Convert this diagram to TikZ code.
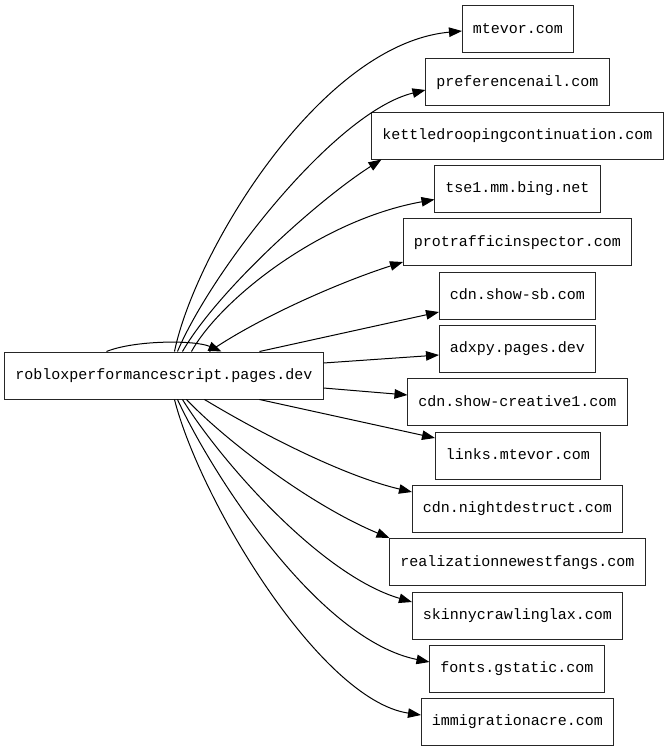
\documentclass[tikz,border=0pt]{standalone}
\usepackage{fontspec}
\setmonofont{Liberation Mono}
\usetikzlibrary{arrows.meta}
\begin{document}
\begin{tikzpicture}[x=1pt,y=-1pt,
  box/.style={draw=black!85, line width=1pt, inner ysep=0pt, inner xsep=10.5pt,
    minimum height=47pt, font=\ttfamily\fontsize{15}{18}\selectfont,
    text height=11pt, text depth=2.5pt},
  e/.style={line width=1pt, -{Triangle[length=13pt,width=9.5pt]}}]
\useasboundingbox[fill=white] (0,0) rectangle (669,752);
\node[box] (src) at (164,375.5) {robloxperformancescript.pages.dev};
\node[box] (n1) at (518,29) {mtevor.com};
\node[box] (n2) at (517.5,82) {preferencenail.com};
\node[box] (n3) at (517.5,135.5) {kettledroopingcontinuation.com};
\node[box] (n4) at (517.5,188.5) {tse1.mm.bing.net};
\node[box] (n5) at (517.5,242) {protrafficinspector.com};
\node[box] (n6) at (517.5,295.5) {cdn.show-sb.com};
\node[box] (n7) at (517.5,348.5) {adxpy.pages.dev};
\node[box] (n8) at (517.5,402) {cdn.show-creative1.com};
\node[box] (n9) at (518,455.5) {links.mtevor.com};
\node[box] (n10) at (517.5,508.5) {cdn.nightdestruct.com};
\node[box] (n11) at (517.5,562) {realizationnewestfangs.com};
\node[box] (n12) at (517.5,615.5) {skinnycrawlinglax.com};
\node[box] (n13) at (517,668.5) {fonts.gstatic.com};
\node[box] (n14) at (517.5,721.5) {immigrationacre.com};
% self loop
\draw[e] ([xshift=102pt]src.north west) .. controls (135,340) and (195,340) .. ([xshift=217pt]src.north west);
% upper fan
\draw[e] ([xshift=170pt]src.north west) .. controls (195,252) and (320,44) .. ([yshift=-2pt]n1.west);
\draw[e] ([xshift=173pt]src.north west) .. controls (212,270) and (335,112) .. ([yshift=-8pt]n2.west);
\draw[e] ([xshift=178pt]src.north west) .. controls (218,290) and (318,200) .. ([xshift=10pt]n3.south west);
\draw[e] ([xshift=187pt]src.north west) .. controls (220,300) and (320,220) .. ([yshift=-11pt]n4.west);
\draw[e] ([xshift=205pt]src.north west) .. controls (258,318) and (340,282) .. ([yshift=-20pt]n5.west);
\draw[e] ([xshift=255pt]src.north west) -- ([yshift=-16.5pt]n6.west);
\draw[e] ([yshift=12.5pt]src.east) -- ([yshift=-6.5pt]n7.west);
\draw[e] ([yshift=-12.5pt]src.east) -- ([yshift=7pt]n8.west);
% lower fan
\draw[e] ([xshift=255pt]src.south west) -- ([yshift=17.5pt]n9.west);
\draw[e] ([xshift=200pt]src.south west) .. controls (255,430) and (340,475) .. ([yshift=16.5pt]n10.west);
\draw[e] ([xshift=182pt]src.south west) .. controls (225,440) and (310,505) .. (n11.north west);
\draw[e] ([xshift=178pt]src.south west) .. controls (220,460) and (320,575) .. ([yshift=13.5pt]n12.west);
\draw[e] ([xshift=173pt]src.south west) .. controls (215,480) and (320,640) .. ([yshift=6.5pt]n13.west);
\draw[e] ([xshift=170pt]src.south west) .. controls (200,500) and (320,700) .. ([yshift=6.5pt]n14.west);
\end{tikzpicture}
\end{document}
